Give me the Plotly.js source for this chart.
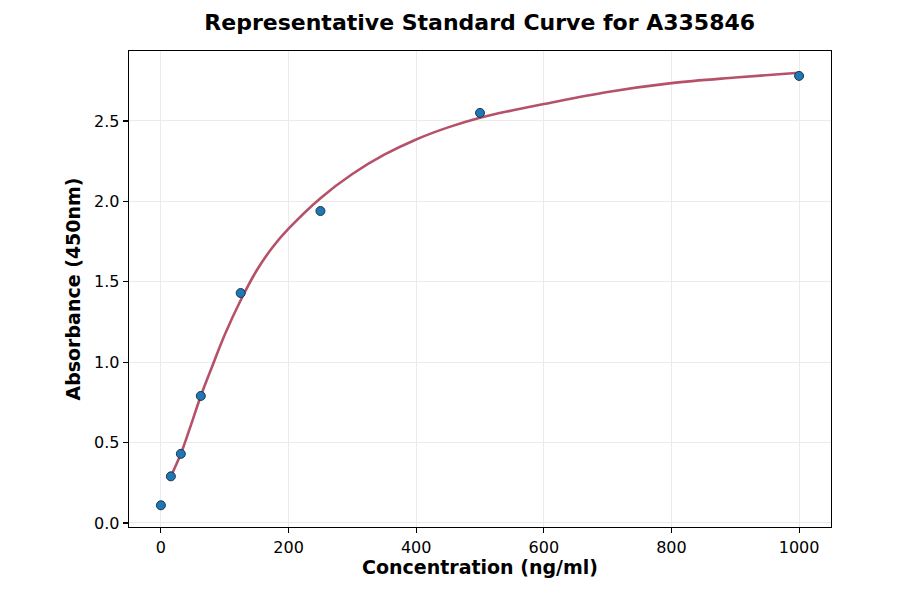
<!DOCTYPE html>
<html>
<head>
<meta charset="utf-8">
<script src="https://cdn.plot.ly/plotly-3.0.1.min.js"></script>
<style>
  html, body { margin: 0; padding: 0; background: #fff; }
  #chart { width: 900px; height: 594px; }
</style>
</head>
<body>
<div id="chart"></div>
<script>
// standard points
const concentration = [0, 15.625, 31.25, 62.5, 125, 250, 500, 1000];
const absorbance = [0.11, 0.29, 0.43, 0.79, 1.43, 1.94, 2.55, 2.78];

// fitted curve
const curveX = [15.625, 31.25, 45, 62.5, 80, 100, 125, 150, 175, 200, 250, 300, 350, 400, 450, 500, 550, 600, 700, 800, 900, 1000];
const curveY = [0.29, 0.43, 0.585, 0.79, 0.97, 1.17, 1.385, 1.57, 1.715, 1.83, 2.02, 2.17, 2.29, 2.385, 2.46, 2.52, 2.565, 2.605, 2.68, 2.735, 2.77, 2.80];

const xTicks = [0, 200, 400, 600, 800, 1000];
const yTicks = [0, 0.5, 1.0, 1.5, 2.0, 2.5];

const font = "DejaVu Sans, Liberation Sans, sans-serif";

const data = [
  {
    x: curveX,
    y: curveY,
    mode: "lines",
    type: "scatter",
    line: { color: "#b5526a", width: 2.6, shape: "spline", smoothing: 1 },
    hoverinfo: "skip"
  },
  {
    x: concentration,
    y: absorbance,
    mode: "markers",
    type: "scatter",
    marker: { size: 9, color: "#1f77b4", line: { color: "#1a3550", width: 1 } }
  }
];

const axisBase = {
  showline: true,
  mirror: true,
  linecolor: "#000",
  linewidth: 1.3,
  ticks: "outside",
  ticklen: 5,
  tickwidth: 1.1,
  tickcolor: "#000",
  showgrid: true,
  gridcolor: "#ebebeb",
  gridwidth: 1,
  zeroline: false,
  tickfont: { family: font, size: 16, color: "#000" }
};

const layout = {
  width: 900,
  height: 594,
  showlegend: false,
  paper_bgcolor: "#fff",
  plot_bgcolor: "#fff",
  margin: { l: 129, r: 69, t: 51, b: 67 },
  title: {
    text: "<b>Representative Standard Curve for A335846</b>",
    font: { family: font, size: 22, color: "#000" },
    x: 0.533,
    xanchor: "center",
    y: 0.963,
    yanchor: "middle"
  },
  xaxis: Object.assign({}, axisBase, {
    range: [-50, 1050],
    tickvals: xTicks,
    ticktext: xTicks.map(String),
    title: { text: "<b>Concentration (ng/ml)</b>", font: { family: font, size: 19, color: "#000" }, standoff: 5 }
  }),
  yaxis: Object.assign({}, axisBase, {
    range: [-0.025, 2.935],
    tickvals: yTicks,
    ticktext: yTicks.map(v => v.toFixed(1)),
    title: { text: "<b>Absorbance (450nm)</b>", font: { family: font, size: 19, color: "#000" }, standoff: 8 }
  })
};

Plotly.newPlot("chart", data, layout, { displayModeBar: false, staticPlot: true });
</script>
</body>
</html>
